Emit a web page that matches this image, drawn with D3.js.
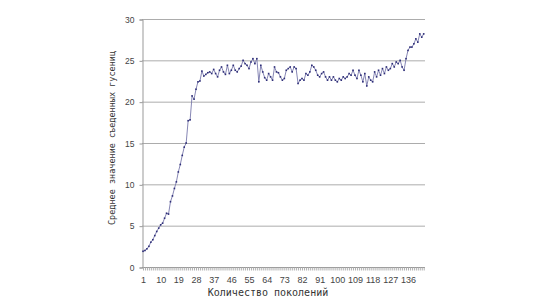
<!DOCTYPE html>
<html>
<head>
<meta charset="utf-8">
<script src="https://cdn.jsdelivr.net/npm/d3@7"></script>
<style>
  html, body { margin: 0; padding: 0; background: #fff; }
  svg { display: block; }
  .tick-lbl { font-family: "Liberation Sans", Arial, sans-serif; font-size: 8.5px; fill: #444; }
  .tick-lbl-x { font-family: "Liberation Sans Narrow", "Liberation Sans", Arial, sans-serif; font-size: 9px; fill: #444; }
  .axis-title { font-family: "DejaVu Sans Mono", monospace; fill: #333; }
</style>
</head>
<body>
<div id="chart"></div>
<script>
(function () {
  'use strict';

  // ── data ───────────────────────────────────────────
  var generations = d3.range(1, 145);
  var meanEaten = [
    1.9, 2.0, 2.2, 2.5, 3.0, 3.3, 3.8, 4.3, 4.7, 5.1,
    5.3, 5.9, 6.5, 6.4, 7.9, 8.6, 9.5, 10.3, 11.5, 12.4,
    13.5, 14.5, 15.0, 17.7, 17.8, 20.7, 20.3, 21.5, 22.4, 22.5,
    23.7, 23.1, 23.3, 23.5, 23.6, 23.4, 23.9, 23.4, 23.0, 23.8,
    24.2, 23.6, 23.3, 24.4, 23.4, 23.8, 24.4, 23.8, 23.6, 24.0,
    24.3, 25.0, 24.6, 24.4, 24.0, 24.8, 25.2, 24.6, 25.2, 22.4,
    24.4, 23.6, 22.9, 22.6, 23.4, 23.0, 22.6, 24.2, 23.6, 23.5,
    23.0, 22.6, 22.8, 23.8, 24.0, 24.2, 23.6, 24.2, 24.0, 22.2,
    22.6, 22.8, 22.6, 23.4, 23.2, 23.6, 24.4, 24.2, 23.8, 23.2,
    23.0, 23.4, 23.6, 23.0, 22.6, 23.0, 22.6, 23.0, 22.6, 22.4,
    22.8, 22.6, 23.0, 22.8, 23.0, 23.4, 23.2, 23.8, 23.2, 22.8,
    23.8, 23.2, 22.4, 23.4, 21.9, 23.0, 22.6, 22.4, 23.6, 23.0,
    23.8, 23.2, 24.0, 23.4, 24.2, 23.8, 24.0, 24.6, 24.2, 24.8,
    24.6, 25.0, 24.2, 23.8, 25.2, 26.2, 26.6, 26.6, 27.0, 27.6,
    27.2, 28.2, 27.8, 28.2
  ];
  var xTickLabels = [1, 10, 19, 28, 37, 46, 55, 64, 73, 82, 91, 100, 109, 118, 127, 136];
  var yTicks = [0, 5, 10, 15, 20, 25, 30];
  var xTitle = 'Количество поколений';
  var yTitle = 'Среднее  значение  съеденных  гусениц';

  var W = 540, H = 303;
  var left = 142, right = 425, top = 19, bottom = 267;

  var svg = d3.select('#chart').append('svg')
    .attr('width', W)
    .attr('height', H);

  var x = d3.scaleLinear().domain([1, 144]).range([143, 423.7]);
  var y = d3.scaleLinear().domain([0, 30]).range([bottom, top]);

  // gridlines
  svg.append('g')
    .selectAll('line')
    .data(yTicks.filter(function (d) { return d > 0; }))
    .enter().append('line')
    .attr('x1', left).attr('x2', right)
    .attr('y1', function (d) { return y(d) + 0.5; })
    .attr('y2', function (d) { return y(d) + 0.5; })
    .attr('stroke', '#acacac')
    .attr('stroke-width', 1);

  // y axis
  var yAxis = svg.append('g')
    .attr('transform', 'translate(' + (left + 0.5) + ',0.5)')
    .call(d3.axisLeft(y).tickValues(yTicks).tickSize(3).tickPadding(5));
  yAxis.select('.domain').attr('stroke', '#999');
  yAxis.selectAll('.tick line').attr('stroke', '#999');
  yAxis.selectAll('.tick text').attr('class', 'tick-lbl').attr('fill', null);

  // x axis: minor ticks at each generation
  var xMinor = svg.append('g')
    .attr('transform', 'translate(0,' + (bottom + 0.5) + ')')
    .call(d3.axisBottom(x).tickValues(generations).tickSize(3).tickFormat(''));
  xMinor.select('.domain').attr('stroke', '#999').attr('d', 'M' + left + ',0H' + right);
  xMinor.selectAll('.tick line').attr('stroke', '#b0b0b0');

  var xLabels = svg.append('g')
    .attr('transform', 'translate(0,' + (bottom + 0.5) + ')')
    .call(d3.axisBottom(x).tickValues(xTickLabels).tickSize(0).tickPadding(9).tickFormat(d3.format('d')));
  xLabels.select('.domain').remove();
  xLabels.selectAll('.tick text').attr('class', 'tick-lbl-x').attr('fill', null);

  // line
  var pts = generations.map(function (g, i) { return { g: g, v: meanEaten[i] }; });
  var line = d3.line()
    .x(function (d) { return x(d.g); })
    .y(function (d) { return y(d.v); });

  svg.append('path')
    .datum(pts)
    .attr('d', line)
    .attr('fill', 'none')
    .attr('stroke', '#7878ac')
    .attr('stroke-width', 0.9);

  svg.append('g')
    .selectAll('rect')
    .data(pts)
    .enter().append('rect')
    .attr('x', function (d) { return x(d.g) - 0.8; })
    .attr('y', function (d) { return y(d.v) - 0.8; })
    .attr('width', 1.6)
    .attr('height', 1.6)
    .attr('fill', '#2e2e78');

  // titles
  svg.append('text')
    .attr('class', 'axis-title')
    .attr('x', 268)
    .attr('y', 296)
    .attr('text-anchor', 'middle')
    .attr('font-size', '10px')
    .text(xTitle);

  svg.append('text')
    .attr('class', 'axis-title')
    .attr('transform', 'translate(115,138) rotate(-90)')
    .attr('text-anchor', 'middle')
    .attr('font-size', '8.5px')
    .text(yTitle);
})();
</script>
</body>
</html>
